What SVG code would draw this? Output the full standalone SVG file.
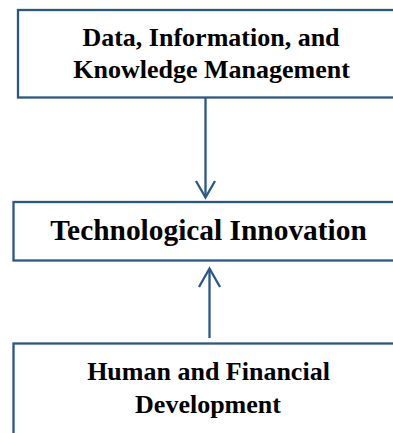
<svg xmlns="http://www.w3.org/2000/svg" width="393" height="433" viewBox="0 0 393 433">
  <style>
    .box { fill: #ffffff; stroke: #2B5787; stroke-width: 2.3; }
    .lbl { font-family: "Liberation Serif", "Times New Roman", serif; font-weight: bold; fill: #000000; text-anchor: middle; }
    .conn { fill: none; stroke: #2B5787; stroke-width: 2.3; stroke-linecap: butt; stroke-linejoin: miter; }
  </style>
  <rect width="393" height="433" fill="#ffffff"/>

  <g id="node-data">
    <rect class="box" x="18" y="10" width="400" height="87.5"/>
    <text class="lbl" x="211" y="46" font-size="26">Data, Information, and</text>
    <text class="lbl" x="211.5" y="77.5" font-size="26">Knowledge Management</text>
  </g>

  <g id="node-tech">
    <rect class="box" x="13.5" y="202" width="400" height="58.5"/>
    <text class="lbl" x="208.5" y="239.5" font-size="29.4">Technological Innovation</text>
  </g>

  <g id="node-human">
    <rect class="box" x="13.5" y="343.5" width="400" height="120"/>
    <text class="lbl" x="208.5" y="380" font-size="26">Human and Financial</text>
    <text class="lbl" x="208" y="412.5" font-size="26">Development</text>
  </g>

  <g id="connectors">
    <line class="conn" x1="205.5" y1="97" x2="205.5" y2="197"/>
    <polyline class="conn" points="196,181 205.5,197.5 215,181"/>
    <line class="conn" x1="209.5" y1="338" x2="209.5" y2="269"/>
    <polyline class="conn" points="199,287 209.5,268.5 220,287"/>
  </g>
</svg>
